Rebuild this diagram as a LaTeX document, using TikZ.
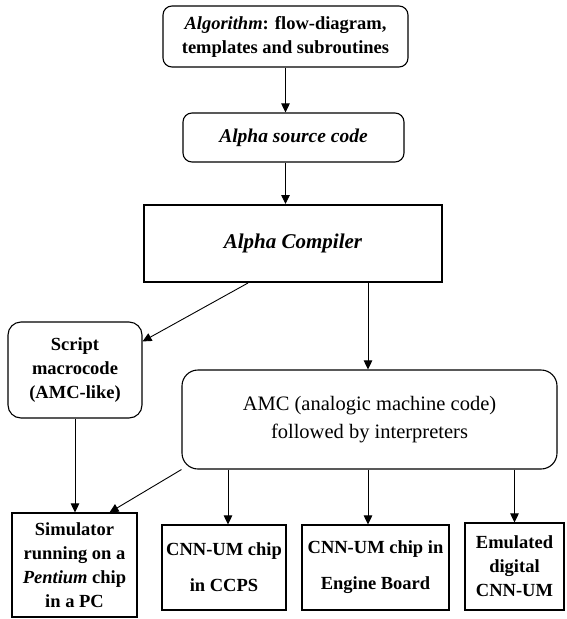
\documentclass[tikz,border=0pt]{standalone}
\usepackage{fontspec}
\setmainfont{Liberation Serif}
\usetikzlibrary{positioning,calc,arrows.meta}

\begin{document}
\begin{tikzpicture}[x=1pt, y=-1pt,
    rbox/.style={draw, line width=1.1pt, rounded corners=9pt, align=center, inner sep=0pt, font=\fontsize{18.5}{24}\selectfont\bfseries},
    sbox/.style={draw, line width=1.1pt, align=center, inner sep=0pt, font=\fontsize{18.5}{24}\selectfont\bfseries},
    arr/.style={line width=0.9pt, -{Triangle[length=9pt,width=8.5pt]}}]
    \useasboundingbox (0,0) rectangle (566,619);

    % Top column
    \node[rbox, minimum width=245pt, minimum height=61pt] (algo) at (285.5,36.5) {\textit{Algorithm}: flow-diagram,\\templates and subroutines};
    \node[rbox, minimum width=221pt, minimum height=49pt, font=\fontsize{19.5}{24}\selectfont\bfseries] (src) at (293.5,137.5) {\textit{Alpha source code}};
    \node[sbox, line width=2pt, minimum width=298pt, minimum height=77pt, font=\fontsize{21}{24}\selectfont\bfseries\itshape] (comp) at (293,243.5) {Alpha Compiler};

    % Middle row
    \node[rbox, rounded corners=13pt, minimum width=134pt, minimum height=96pt] (script) at (75,370) {Script\\macrocode\\(AMC-like)};
    \node[rbox, rounded corners=16pt, minimum width=375pt, minimum height=99pt, font=\fontsize{20.5}{28}\selectfont] (amc) at (369.5,419.5) {AMC (analogic machine code)\\followed by interpreters};

    % Bottom row
    \node[sbox, minimum width=125pt, minimum height=104pt] (sim) at (74.5,565) {Simulator\\running on a\\\textit{Pentium} chip\\in a PC};
    \node[sbox, minimum width=124pt, minimum height=85pt, font=\fontsize{18.5}{36}\selectfont\bfseries] (ccps) at (224,567.5) {CNN-UM chip\\in CCPS};
    \node[sbox, minimum width=147pt, minimum height=85pt, font=\fontsize{18.5}{36}\selectfont\bfseries] (engine) at (375.5,567.5) {CNN-UM chip in\\Engine Board};
    \node[sbox, minimum width=99pt, minimum height=87pt] (emul) at (514.5,566.5) {Emulated\\digital\\CNN-UM};

    % Connectors
    \coordinate (split) at ($(comp.south west)!0.75!(comp.south east)$);
    \draw[arr] (algo.south) -- (algo.south |- src.north);
    \draw[arr] (algo.south |- src.south) -- (algo.south |- comp.north);
    \draw[arr] ($(comp.south west)!0.35!(comp.south east)$) -- ([yshift=-20pt]script.north east);
    \draw[arr] (split) -- (split |- amc.north);
    \draw[arr] (script.south) -- (script.south |- sim.north);
    \draw[arr] (amc.south west) -- ([xshift=35pt]sim.north);
    \draw[arr] ([xshift=4pt]ccps.north |- amc.south) -- ([xshift=4pt]ccps.north);
    \draw[arr] (split |- amc.south) -- (split |- engine.north);
    \draw[arr] (emul.north |- amc.south) -- (emul.north);
\end{tikzpicture}
\end{document}
